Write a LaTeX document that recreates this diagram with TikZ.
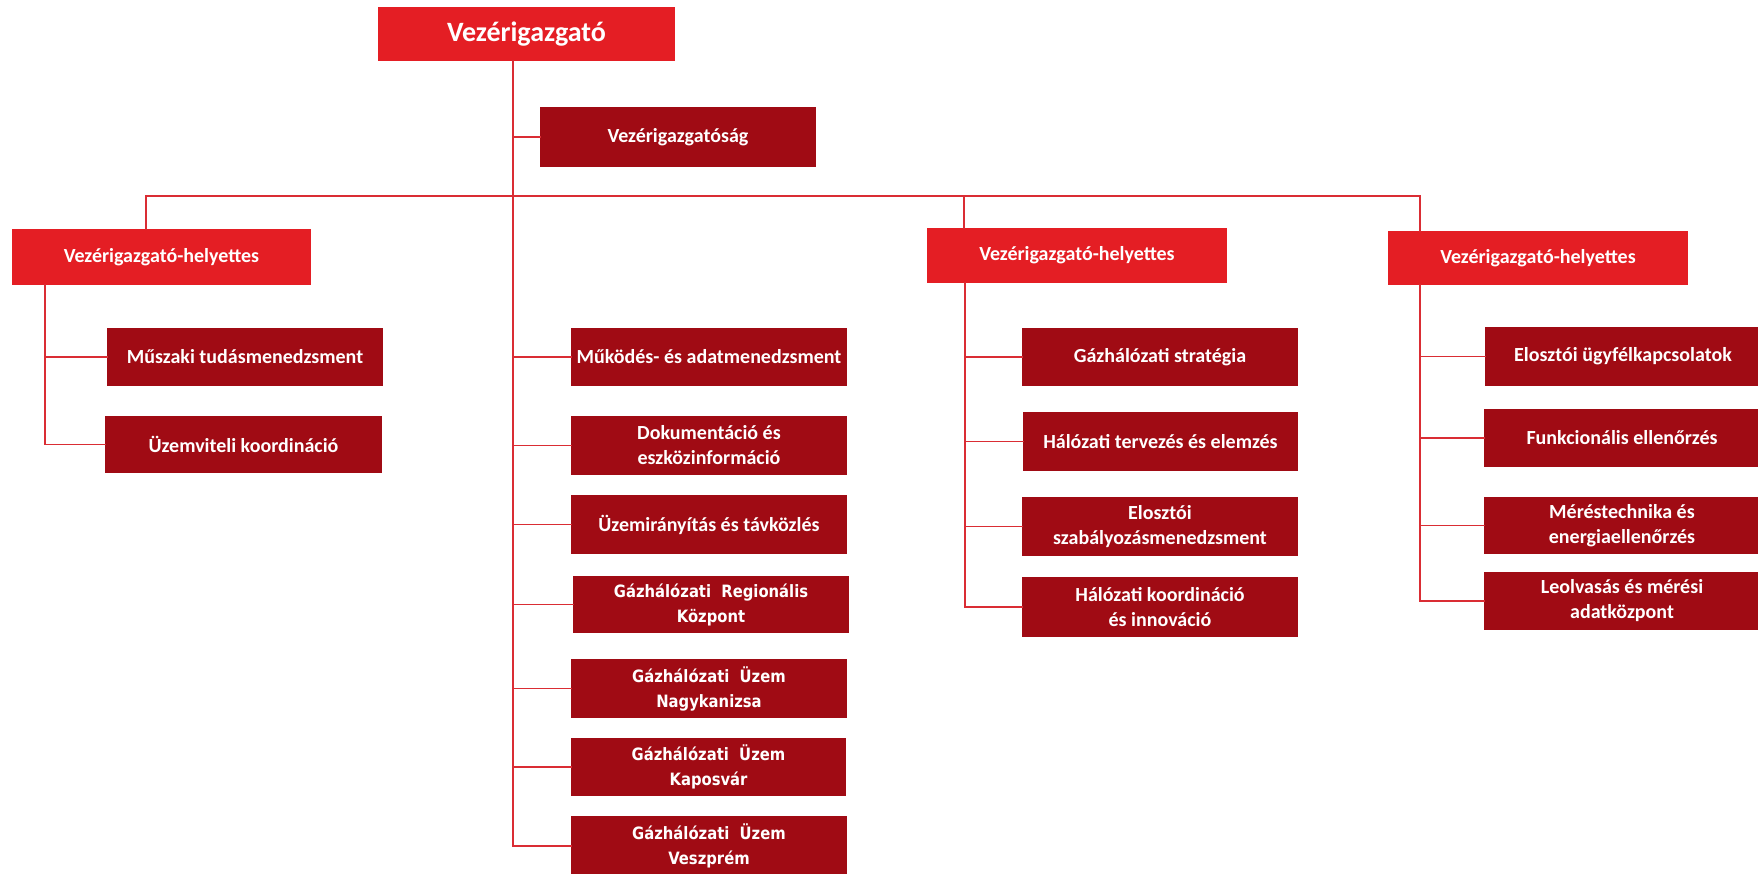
\documentclass[tikz,border=0pt]{standalone}
\usepackage{fontspec}
\setmainfont{Carlito}
\newfontfamily\tahfont{DejaVu Sans}[FakeStretch=0.87]
\definecolor{brightred}{RGB}{228,30,36}
\definecolor{darkred}{RGB}{160,11,20}
\definecolor{linered}{RGB}{218,45,52}
\begin{document}
\begin{tikzpicture}[x={(1pt,0pt)},y={(0pt,-1pt)},
  box/.style={anchor=north west, inner sep=0pt, outer sep=0pt, text=white, align=center,
    font=\bfseries\fontsize{20}{25}\selectfont},
  topbox/.style={box, fill=brightred},
  subbox/.style={box, fill=darkred},
  gazbox/.style={box, fill=darkred, font=\tahfont\bfseries\fontsize{17}{25}\selectfont},
  conn/.style={draw=linered, line width=1.8pt, line cap=rect}]
\useasboundingbox (0,0) rectangle (1758,873);
\clip (0,0) rectangle (1758,873);
% top level
\node[topbox, minimum width=297pt, minimum height=54pt] (ceo) at (378,7) {\fontsize{28}{30}\selectfont Vezérigazgató};
\node[subbox, minimum width=276pt, minimum height=60pt] (vezig) at (540,107) {Vezérigazgatóság};
\node[topbox, minimum width=299pt, minimum height=56pt] (vh1) at (12,229) {Vezérigazgató-helyettes};
\node[topbox, minimum width=300pt, minimum height=55pt] (vh3) at (927,228) {Vezérigazgató-helyettes};
\node[topbox, minimum width=300pt, minimum height=54pt] (vh4) at (1388,231) {Vezérigazgató-helyettes};
% left column
\node[subbox, minimum width=276pt, minimum height=58pt] (muszaki) at (107,328) {Műszaki tudásmenedzsment};
\node[subbox, minimum width=277pt, minimum height=57pt] (uzemviteli) at (105,416) {Üzemviteli koordináció};
% centre column
\node[subbox, minimum width=276pt, minimum height=58pt] (mukodes) at (571,328) {Működés- és adatmenedzsment};
\node[subbox, minimum width=276pt, minimum height=59pt] (dokument) at (571,416) {Dokumentáció és\\eszközinformáció};
\node[subbox, minimum width=276pt, minimum height=59pt] (uzemir) at (571,495) {Üzemirányítás és távközlés};
\node[gazbox, minimum width=276pt, minimum height=57pt] (regional) at (573,576) {Gázhálózati~~Regionális\\Központ};
\node[gazbox, minimum width=276pt, minimum height=59pt] (nagyk) at (571,659) {Gázhálózati~~Üzem\\Nagykanizsa};
\node[gazbox, minimum width=275pt, minimum height=58pt] (kapos) at (571,738) {Gázhálózati~~Üzem\\Kaposvár};
\node[gazbox, minimum width=276pt, minimum height=60pt] (veszp) at (571,816) {Gázhálózati~~Üzem\\Veszprém};
% third column
\node[subbox, minimum width=276pt, minimum height=58pt] (strat) at (1022,328) {Gázhálózati stratégia};
\node[subbox, minimum width=275pt, minimum height=59pt] (terv) at (1023,412) {Hálózati tervezés és elemzés};
\node[subbox, minimum width=276pt, minimum height=59pt] (szab) at (1022,497) {Elosztói\\szabályozásmenedzsment};
\node[subbox, minimum width=276pt, minimum height=60pt] (koord) at (1022,577) {Hálózati koordináció\\és innováció};
% fourth column
\node[subbox, minimum width=276pt, minimum height=59pt] (ugyfel) at (1485,327) {Elosztói ügyfélkapcsolatok};
\node[subbox, minimum width=276pt, minimum height=58pt] (funk) at (1484,409) {Funkcionális ellenőrzés};
\node[subbox, minimum width=276pt, minimum height=57pt] (meres) at (1484,497) {Méréstechnika és\\energiaellenőrzés};
\node[subbox, minimum width=276pt, minimum height=58pt] (leolv) at (1484,572) {Leolvasás és mérési\\adatközpont};
% connector coordinates
\coordinate (t) at (513,196);
\coordinate (bL) at (146,196);
\coordinate (b3) at (964,196);
\coordinate (bR) at (1420,196);
\coordinate (c1) at (45,300);
\coordinate (c3) at (965,300);
% trunk
\draw[conn] (ceo.south -| t) |- (veszp.west);
\draw[conn] (vezig.west -| t) -- (vezig.west);
\foreach \n in {mukodes,dokument,uzemir,regional,nagyk,kapos}
  \draw[conn] (\n.west -| t) -- (\n.west);
% bus
\draw[conn] (bL) -- (bR);
\draw[conn] (bL) -- (bL |- vh1.north);
\draw[conn] (b3) -- (b3 |- vh3.north);
\draw[conn] (bR) -- (bR |- vh4.north);
% left branch
\draw[conn] (vh1.south -| c1) |- (uzemviteli.west);
\draw[conn] (muszaki.west -| c1) -- (muszaki.west);
% third branch
\draw[conn] (vh3.south -| c3) |- (koord.west);
\foreach \n in {strat,terv,szab}
  \draw[conn] (\n.west -| c3) -- (\n.west);
% fourth branch
\draw[conn] (vh4.south -| bR) |- (leolv.west);
\foreach \n in {ugyfel,funk,meres}
  \draw[conn] (\n.west -| bR) -- (\n.west);
\end{tikzpicture}
\end{document}
